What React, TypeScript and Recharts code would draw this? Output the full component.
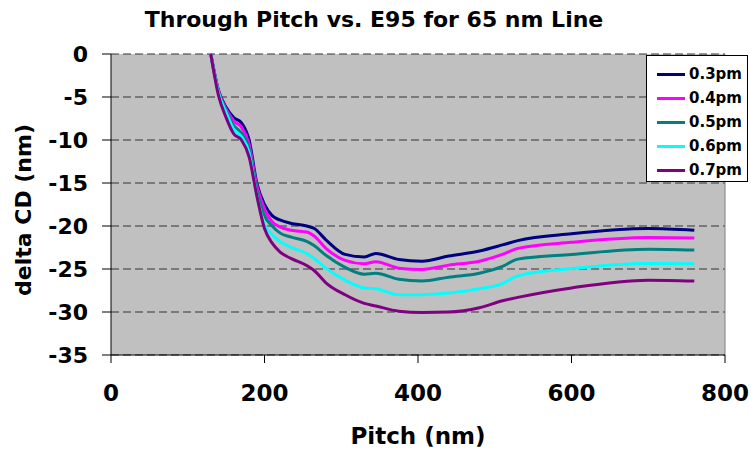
import { LineChart, Line, XAxis, YAxis, CartesianGrid, ReferenceLine } from "recharts";

// ---- Data ----
const pitches = [130, 140, 150, 160, 170, 180, 190, 200, 210, 220, 235, 255, 265, 280, 305, 330, 345, 375, 405, 440, 480, 510, 530, 600, 700, 760];

const pm03 = [0, -4.2, -6.2, -7.4, -8.0, -10.0, -15.0, -17.5, -18.8, -19.3, -19.7, -20.0, -20.3, -21.6, -23.3, -23.6, -23.2, -23.9, -24.1, -23.5, -22.9, -22.2, -21.7, -20.9, -20.3, -20.5];
const pm04 = [0, -4.3, -6.4, -7.8, -8.5, -10.5, -15.3, -18.0, -19.5, -20.1, -20.5, -20.7, -21.2, -22.6, -24.0, -24.4, -24.15, -24.9, -25.05, -24.55, -24.1, -23.3, -22.6, -21.9, -21.35, -21.4];
const pm05 = [0, -4.4, -6.6, -8.3, -9.2, -11.0, -15.8, -18.8, -20.0, -20.8, -21.3, -21.8, -22.3, -23.4, -24.8, -25.6, -25.5, -26.2, -26.4, -25.95, -25.5, -24.7, -23.85, -23.3, -22.7, -22.8];
const pm06 = [0, -4.5, -6.8, -8.8, -9.6, -11.5, -16.5, -19.8, -21.0, -21.8, -22.5, -23.2, -23.8, -24.9, -26.3, -27.2, -27.3, -28.0, -28.0, -27.8, -27.3, -26.7, -25.8, -24.95, -24.35, -24.4];
const pm07 = [0, -4.8, -7.4, -9.3, -10.0, -12.0, -16.5, -20.3, -22.0, -23.0, -23.8, -24.6, -25.2, -26.6, -28.0, -29.0, -29.3, -29.9, -30.05, -30.0, -29.5, -28.7, -28.3, -27.2, -26.3, -26.4];

const seriesNames = ["0.3pm", "0.4pm", "0.5pm", "0.6pm", "0.7pm"];
const seriesColors = ["#000080", "#FF00FF", "#008080", "#00FFFF", "#800080"];
const seriesValues = [pm03, pm04, pm05, pm06, pm07];

const xTicks = [0, 200, 400, 600, 800];
const yTicks = [0, -5, -10, -15, -20, -25, -30, -35];

const data = pitches.map((p, i) => {
  const row: Record<string, number> = { pitch: p };
  seriesNames.forEach((n, k) => {
    row[n] = seriesValues[k][i];
  });
  return row;
});

const FONT = "'DejaVu Sans', Verdana, sans-serif";

export default function App() {
  return (
    <div style={{ position: "absolute", left: 0, top: 0, width: 751, height: 451, background: "#fff" }}>
      <LineChart width={751} height={451} data={data} margin={{ top: 54, right: 26, left: 0, bottom: 0 }}>
        <CartesianGrid
          horizontal
          vertical={false}
          fill="#C0C0C0"
          stroke="#333"
          strokeDasharray="8 4"
          fillOpacity={1}
        />
        <XAxis
          type="number"
          dataKey="pitch"
          domain={[0, 800]}
          ticks={xTicks}
          interval={0}
          height={96}
          tickSize={8}
          tickMargin={22}
          axisLine={{ stroke: "#000" }}
          tickLine={{ stroke: "#000" }}
          tick={{ fontSize: 23, fontWeight: "bold", fill: "#000", fontFamily: FONT }}
        />
        <YAxis
          type="number"
          domain={[-35, 0]}
          ticks={yTicks}
          interval={0}
          width={111}
          tickSize={9}
          tickMargin={14}
          axisLine={{ stroke: "#000" }}
          tickLine={{ stroke: "#000" }}
          tick={{ fontSize: 22, fontWeight: "bold", fill: "#000", fontFamily: FONT }}
        />
        <ReferenceLine x={800} stroke="#808080" strokeWidth={1} />
        {seriesNames.map((n, k) => (
          <Line
            key={n}
            type="monotone"
            dataKey={n}
            stroke={seriesColors[k]}
            strokeWidth={3}
            dot={false}
            isAnimationActive={false}
          />
        ))}
      </LineChart>

      {/* Legend */}
      <div
        style={{
          position: "absolute",
          left: 646,
          top: 55,
          width: 102,
          height: 127,
          background: "#fff",
          border: "1px solid #000",
          paddingTop: 6,
          boxSizing: "border-box",
          fontFamily: FONT,
        }}
      >
        {seriesNames.map((n, k) => (
          <div key={n} style={{ display: "flex", alignItems: "center", height: 24 }}>
            <span style={{ width: 28, height: 3, background: seriesColors[k], marginLeft: 10 }} />
            <span style={{ marginLeft: 4, fontSize: 15, fontWeight: "bold", color: "#000" }}>{n}</span>
          </div>
        ))}
      </div>

      <svg
        width={751}
        height={451}
        style={{ position: "absolute", left: 0, top: 0, pointerEvents: "none" }}
        fontFamily={FONT}
        fontWeight="bold"
      >
        <text x={374} y={27} textAnchor="middle" fontSize={22} fill="#000">
          Through Pitch vs. E95 for 65 nm Line
        </text>
        <text x={418} y={444} textAnchor="middle" fontSize={23} fill="#000">
          Pitch (nm)
        </text>
        <text
          x={0}
          y={0}
          textAnchor="middle"
          fontSize={22}
          fill="#000"
          transform="translate(31, 210) rotate(-90)"
        >
          delta CD (nm)
        </text>
      </svg>
    </div>
  );
}
